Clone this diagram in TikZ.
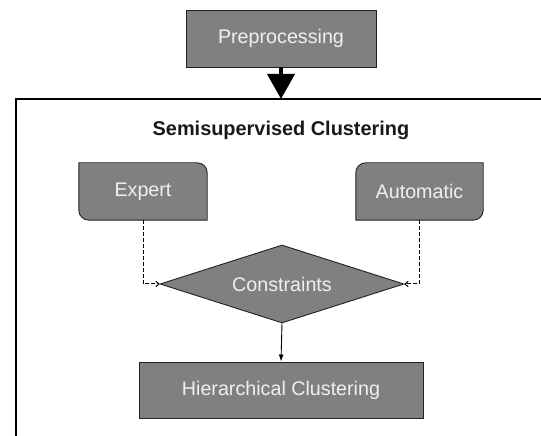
\documentclass[tikz,border=0pt]{standalone}
\usepackage{fontspec}
\setmainfont{Liberation Sans}
\usetikzlibrary{arrows.meta,shapes.geometric,calc}
\definecolor{boxfill}{HTML}{808080}
\definecolor{boxtext}{HTML}{F0F0F0}
\definecolor{boxline}{HTML}{222222}
\tikzset{
  x=1pt,y=1pt,
  lbl/.style={font=\fontsize{19.7}{23}\selectfont, text=boxtext},
  box/.style={lbl, draw=boxline, fill=boxfill, line width=0.9pt, rectangle, inner sep=0pt},
  ghost/.style={lbl, rectangle, inner sep=0pt},
  shp/.style={draw=boxline, fill=boxfill, line width=0.9pt},
  dashcon/.style={draw=black, line width=1pt, dash pattern=on 4pt off 2pt, -{To[length=4pt,width=6pt]}},
  solidcon/.style={draw=black, line width=0.9pt, -{Latex[length=7pt,width=5pt]}},
  bigarrow/.style={draw=black, line width=4pt, -{Triangle[width=27pt,length=25pt]}},
  frameline/.style={draw=black, line width=1.2pt}
}
\begin{document}
\begin{tikzpicture}
\useasboundingbox (0,0) rectangle (541,436);
% frame
\coordinate (fl) at (16,0);
\coordinate (fc) at (16,337);
\coordinate (fr) at (541,337);
\coordinate (ftop) at (281,337);
\draw[frameline] (fl) -- (fc) -- (fr);
% preprocessing
\node[box, minimum width=190pt, minimum height=57pt] (pre) at (281,397.5) {Preprocessing};
\draw[bigarrow] (pre.south) -- (ftop);
% title
\node[font=\fontsize{19.9}{23}\selectfont\bfseries, text=black!90] (title) at (281,306) {Semisupervised Clustering};
% expert
\node[ghost, minimum width=128pt, minimum height=57pt] (expert) at (143,244.5) {};
\draw[shp] (expert.north west) -- ([xshift=-10pt]expert.north east) arc[start angle=90,end angle=0,radius=10pt]
  -- (expert.south east) -- ([xshift=10pt]expert.south west) arc[start angle=270,end angle=180,radius=10pt] -- cycle;
\node[lbl] at (expert.center) {Expert};
% automatic
\node[ghost, minimum width=127pt, minimum height=57pt] (auto) at (419.5,244.5) {};
\draw[shp] ([xshift=10pt]auto.north west) -- (auto.north east) -- ([yshift=10pt]auto.south east) arc[start angle=0,end angle=-90,radius=10pt]
  -- (auto.south west) -- ([yshift=-10pt]auto.north west) arc[start angle=180,end angle=90,radius=10pt] -- cycle;
\node[lbl] at (auto.center) {Automatic};
% constraints
\node[lbl, diamond, aspect=3.13, draw=boxline, fill=boxfill, line width=0.9pt, inner sep=0pt,
  minimum width=244pt, minimum height=78pt] (cons) at (282,152) {Constraints};
% hierarchical
\node[box, minimum width=284pt, minimum height=56pt] (hier) at (281,46) {Hierarchical Clustering};
% connectors
\draw[dashcon] (expert.south) |- (cons.west);
\draw[dashcon] (auto.south) |- (cons.east);
\draw[solidcon] (cons.south) -- (hier.north);
\end{tikzpicture}
\end{document}
